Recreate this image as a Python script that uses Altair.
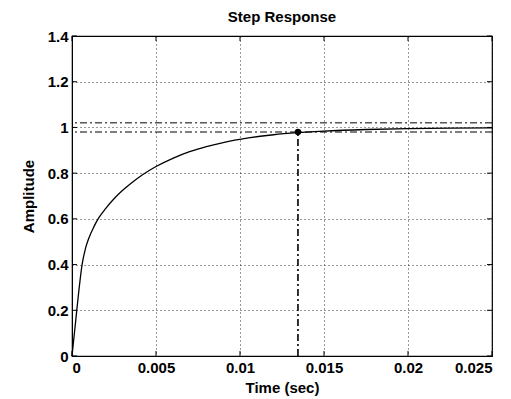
import altair as alt
import pandas as pd

# Step response curve
time_s = [0.0, 0.0002, 0.0004, 0.0006, 0.0008, 0.001, 0.0013, 0.0016, 0.002, 0.0025,
          0.003, 0.0035, 0.0042, 0.005, 0.006, 0.007, 0.008, 0.009, 0.0105, 0.012,
          0.01345, 0.015, 0.0175, 0.02, 0.0225, 0.025]
amplitude = [0.0, 0.14, 0.28, 0.40, 0.47, 0.515, 0.565, 0.605, 0.645, 0.688,
             0.724, 0.755, 0.793, 0.829, 0.865, 0.894, 0.916, 0.934, 0.954, 0.968,
             0.977, 0.984, 0.991, 0.995, 0.997, 0.998]

x_ticks = [0, 0.005, 0.01, 0.015, 0.02, 0.025]
y_ticks = [0, 0.2, 0.4, 0.6, 0.8, 1.0, 1.2, 1.4]

settle_time = [0.01345]
settle_value = [0.98]
band_levels = [1.02, 0.98]

FONT = "Liberation Sans"
W, H = 420, 320

xscale = alt.Scale(domain=[0, 0.025], nice=False, zero=False)
yscale = alt.Scale(domain=[0, 1.4], nice=False)

curve_df = pd.DataFrame({"t": time_s, "y": amplitude})
settle_df = pd.DataFrame({"t": settle_time, "y": settle_value, "y0": [0.0] * len(settle_time)})
band_df = pd.DataFrame({"y": band_levels})
xt_df = pd.DataFrame({"t": x_ticks})
yt_df = pd.DataFrame({"y": y_ticks})

grid_common = dict(grid=True, gridColor="black", gridDash=[1, 3], gridWidth=1, gridOpacity=0.8,
                   ticks=False, domainColor="black", domainWidth=1,
                   labelFont=FONT, labelFontSize=15, labelFontWeight="bold", labelColor="black",
                   titleFont=FONT, titleFontSize=15, titleFontWeight="bold", titleColor="black")

curve = alt.Chart(curve_df).mark_line(color="black", strokeWidth=1.3, interpolate="monotone").encode(
    x=alt.X("t:Q", scale=xscale,
            axis=alt.Axis(values=x_ticks, format=".3~f", title="Time (sec)", labelPadding=4,
                          titlePadding=5, **grid_common)),
    y=alt.Y("y:Q", scale=yscale,
            axis=alt.Axis(values=y_ticks, format=".1~f", title="Amplitude", labelPadding=4,
                          titlePadding=11, **grid_common)),
)

bands = alt.Chart(band_df).mark_rule(color="black", strokeWidth=1, strokeDash=[7, 3, 2, 3]).encode(
    y=alt.Y("y:Q", scale=yscale)
)

vline = alt.Chart(settle_df).mark_rule(color="black", strokeWidth=1.6, strokeDash=[7, 3, 2, 3]).encode(
    x=alt.X("t:Q", scale=xscale),
    y=alt.Y("y0:Q", scale=yscale),
    y2="y:Q",
)

dot = alt.Chart(settle_df).mark_circle(color="black", size=40, opacity=1).encode(
    x=alt.X("t:Q", scale=xscale),
    y=alt.Y("y:Q", scale=yscale),
)

tick_bottom = alt.Chart(xt_df).mark_rule(color="black").encode(
    x=alt.X("t:Q", scale=xscale), y=alt.value(H), y2=alt.value(H - 5))
tick_top = alt.Chart(xt_df).mark_rule(color="black").encode(
    x=alt.X("t:Q", scale=xscale), y=alt.value(0), y2=alt.value(5))
tick_left = alt.Chart(yt_df).mark_rule(color="black").encode(
    y=alt.Y("y:Q", scale=yscale), x=alt.value(0), x2=alt.value(5))
tick_right = alt.Chart(yt_df).mark_rule(color="black").encode(
    y=alt.Y("y:Q", scale=yscale), x=alt.value(W), x2=alt.value(W - 5))

chart = alt.layer(
    tick_bottom, tick_top, tick_left, tick_right, bands, vline, curve, dot
).properties(
    width=W, height=H,
    title=alt.TitleParams("Step Response", font=FONT, fontSize=15, fontWeight="bold",
                          color="black", anchor="middle", offset=4),
    padding={"left": 72, "top": 36, "right": 19, "bottom": 43},
    autosize=alt.AutoSizeParams(type="none"),
    background="white",
).configure_view(stroke="black", strokeWidth=1.2)

chart.save("out.html", embed_options={"renderer": "svg", "actions": False})
